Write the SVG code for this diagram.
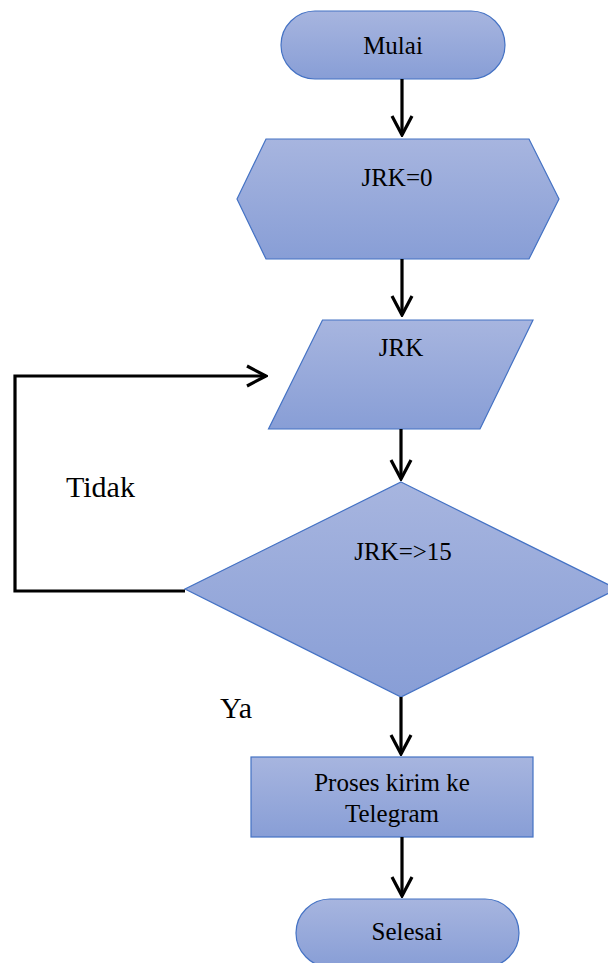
<svg xmlns="http://www.w3.org/2000/svg" width="608" height="963" viewBox="0 0 608 963">
<defs>
<linearGradient id="g" x1="0" y1="0" x2="0" y2="1">
<stop offset="0" stop-color="#a7b5df"/>
<stop offset="1" stop-color="#889ed6"/>
</linearGradient>
<marker id="ah" markerWidth="24" markerHeight="24" viewBox="-22 -12 24 24" refX="0" refY="0" orient="auto" markerUnits="userSpaceOnUse">
<polyline points="-19,-10 0,0 -19,10" fill="none" stroke="#000" stroke-width="3.2"/>
</marker>
<style>
.shape{fill:url(#g);stroke:#4472c4;stroke-width:1.2}
.lbl{font-family:"Liberation Serif","Times New Roman",serif;font-size:25px;fill:#000;text-anchor:middle}
.side{font-family:"Liberation Serif","Times New Roman",serif;font-size:30px;fill:#000}
.conn{fill:none;stroke:#000;stroke-width:3.2}
</style>
</defs>
<rect width="608" height="963" fill="#fff"/>
<g id="mulai">
<rect class="shape" x="281" y="11" width="224" height="68" rx="34"/>
<text class="lbl" x="393" y="54">Mulai</text>
</g>
<g id="init">
<polygon class="shape" points="266,139 529,139 559,199 529,259 266,259 237,199"/>
<text class="lbl" x="397" y="186">JRK=0</text>
</g>
<g id="input">
<polygon class="shape" points="322.5,320 533,320 480,429 268.5,429"/>
<text class="lbl" x="401" y="356">JRK</text>
</g>
<g id="decision">
<polygon class="shape" points="401,482 617,589 401,697 185,589"/>
<text class="lbl" x="403" y="560">JRK=&gt;15</text>
</g>
<g id="proses">
<rect class="shape" x="251" y="757" width="282" height="80"/>
<text class="lbl" x="392" y="791">Proses kirim ke</text>
<text class="lbl" x="392" y="822">Telegram</text>
</g>
<g id="selesai">
<rect class="shape" x="296" y="899" width="223" height="68" rx="34"/>
<text class="lbl" x="407" y="940">Selesai</text>
</g>
<g id="connectors">
<line class="conn" x1="402" y1="79" x2="402" y2="135" marker-end="url(#ah)"/>
<line class="conn" x1="402" y1="259" x2="402" y2="315" marker-end="url(#ah)"/>
<line class="conn" x1="401" y1="429" x2="401" y2="479" marker-end="url(#ah)"/>
<line class="conn" x1="401" y1="697" x2="401" y2="754" marker-end="url(#ah)"/>
<line class="conn" x1="402" y1="837" x2="402" y2="896" marker-end="url(#ah)"/>
<polyline class="conn" points="185,591 15,591 15,376 266,376" marker-end="url(#ah)"/>
</g>
<text class="side" x="66" y="497">Tidak</text>
<text class="side" x="220" y="718">Ya</text>
</svg>
